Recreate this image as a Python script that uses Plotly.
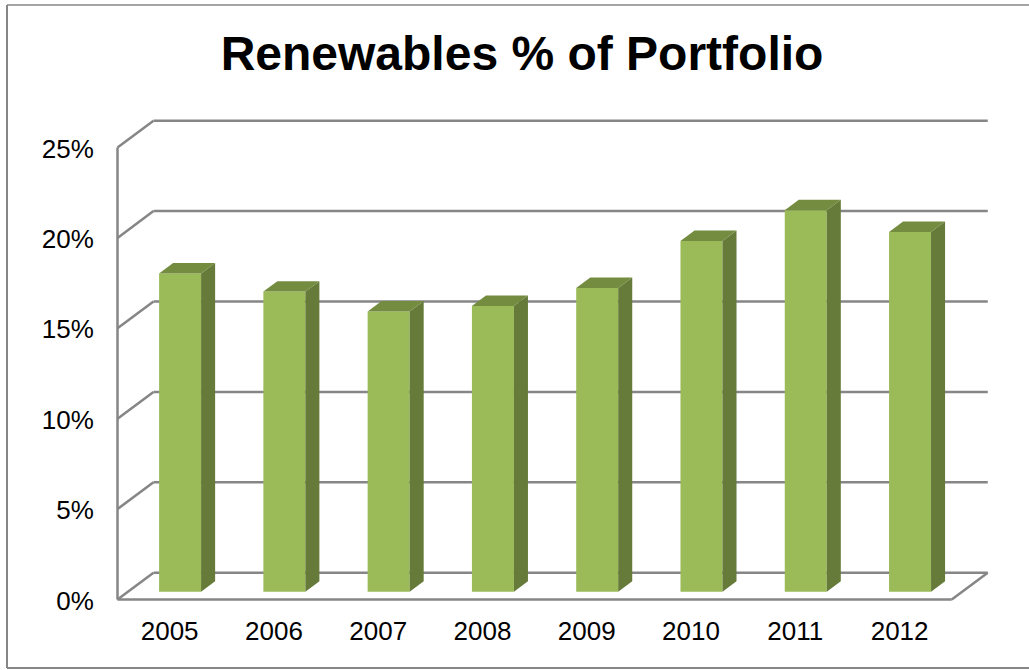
import plotly.graph_objects as go

years = ["2005", "2006", "2007", "2008", "2009", "2010", "2011", "2012"]
renewables_pct = [17.6, 16.6, 15.5, 15.8, 16.8, 19.4, 21.1, 19.9]
y_ticks = [0, 5, 10, 15, 20, 25]
y_tick_labels = ["0%", "5%", "10%", "15%", "20%", "25%"]

W, H = 1029, 670
PX_PER_CAT = 104.28
PX_PER_VAL = 18.08
X0_PX = 117.5          # left front corner (category -0.5)
Y0_PX = 599.5          # value 0 on the front plane
PLOT_L, PLOT_R = 108, 1000
PLOT_T, PLOT_B = 112, 606

DEPTH_X = 36 / PX_PER_CAT    # full depth in category units
DEPTH_Y = 26.8 / PX_PER_VAL  # full depth in value units
BAR_FRONT, BAR_BACK = 0.29, 0.68
BAR_W = 42 / PX_PER_CAT

GRID = "#868686"
FRONT, SIDE, TOP = "#9BBB59", "#667A39", "#748C40"

x_idx = list(range(len(years)))


def pr(cat, val, depth):
    return cat + depth * DEPTH_X, val + depth * DEPTH_Y


def px_x(px):
    return (px - PLOT_L) / (PLOT_R - PLOT_L)


def px_y(px):
    return (PLOT_B - px) / (PLOT_B - PLOT_T)


fig = go.Figure()

# Front faces
fig.add_trace(go.Bar(
    x=[pr(i, 0, BAR_FRONT)[0] for i in x_idx],
    y=renewables_pct,
    base=[pr(0, 0, BAR_FRONT)[1]] * len(x_idx),
    width=BAR_W,
    marker=dict(color=FRONT, line=dict(width=0)),
    hoverinfo="skip",
    showlegend=False,
))

# Side and top faces
for i, v in zip(x_idx, renewables_pct):
    l, r = i - BAR_W / 2, i + BAR_W / 2
    side = [pr(r, 0, BAR_FRONT), pr(r, v, BAR_FRONT), pr(r, v, BAR_BACK), pr(r, 0, BAR_BACK), pr(r, 0, BAR_FRONT)]
    fig.add_trace(go.Scatter(x=[c[0] for c in side], y=[c[1] for c in side],
                             mode="lines", fill="toself", fillcolor=SIDE,
                             line=dict(width=0), hoverinfo="skip", showlegend=False))
    top = [pr(l, v, BAR_FRONT), pr(r, v, BAR_FRONT), pr(r, v, BAR_BACK), pr(l, v, BAR_BACK), pr(l, v, BAR_FRONT)]
    fig.add_trace(go.Scatter(x=[c[0] for c in top], y=[c[1] for c in top],
                             mode="lines", fill="toself", fillcolor=TOP,
                             line=dict(width=0), hoverinfo="skip", showlegend=False))

x_min = -0.5
x_max = -0.5 + len(years)
shapes = []


def seg(p, q, width=2.5):
    shapes.append(dict(type="line", xref="x", yref="y", layer="below",
                       x0=p[0], y0=p[1], x1=q[0], y1=q[1],
                       line=dict(color=GRID, width=width)))


for t in y_ticks:
    seg(pr(x_min, t, 0), pr(x_min, t, 1))          # side wall diagonal
    seg(pr(x_min, t, 1), pr(x_max, t, 1))          # back wall gridline
seg(pr(x_min, 0, 0), pr(x_min, 25, 0))             # front vertical
seg(pr(x_min, 0, 0), pr(x_max, 0, 0))              # front floor edge
seg(pr(x_max, 0, 0), pr(x_max, 0, 1))              # right floor edge

# Chart frame (cropped on the right)
for (a, b, c, d, wd) in [(7, 5, W, 5, 1.5), (7, 5, 7, 668, 2), (7, 668, W, 668, 2)]:
    shapes.append(dict(type="line", xref="paper", yref="paper", layer="above",
                       x0=px_x(a), y0=px_y(b), x1=px_x(c), y1=px_y(d),
                       line=dict(color=GRID, width=wd)))

fig.update_layout(
    width=W, height=H,
    autosize=False,
    margin=dict(l=PLOT_L, r=W - PLOT_R, t=PLOT_T, b=H - PLOT_B, pad=0),
    paper_bgcolor="white", plot_bgcolor="rgba(0,0,0,0)",
    font=dict(family="Liberation Sans, Arial, sans-serif", color="black"),
    title=dict(text="<b>Renewables % of Portfolio</b>", x=522 / W, y=1 - 53 / H,
               xanchor="center", yanchor="middle", font=dict(size=48, color="black")),
    shapes=shapes,
    barmode="overlay",
    xaxis=dict(
        range=[x_min + (PLOT_L - X0_PX) / PX_PER_CAT, x_min + (PLOT_R - X0_PX) / PX_PER_CAT],
        tickmode="array", tickvals=x_idx, ticktext=years,
        tickfont=dict(size=26, color="black"),
        showgrid=False, zeroline=False, showline=False,
        ticks="outside", ticklen=2, tickcolor="rgba(0,0,0,0)",
    ),
    yaxis=dict(
        range=[(Y0_PX - PLOT_B) / PX_PER_VAL, (Y0_PX - PLOT_T) / PX_PER_VAL],
        tickmode="array", tickvals=y_ticks, ticktext=y_tick_labels,
        tickfont=dict(size=26, color="black"),
        showgrid=False, zeroline=False, showline=False,
        ticks="outside", ticklen=8, tickcolor="rgba(0,0,0,0)",
        ticklabelshift=1,
    ),
)

fig.write_html("out.html", config={"displayModeBar": False},
               post_script="document.body.style.margin='0';document.documentElement.style.overflow='hidden';")
